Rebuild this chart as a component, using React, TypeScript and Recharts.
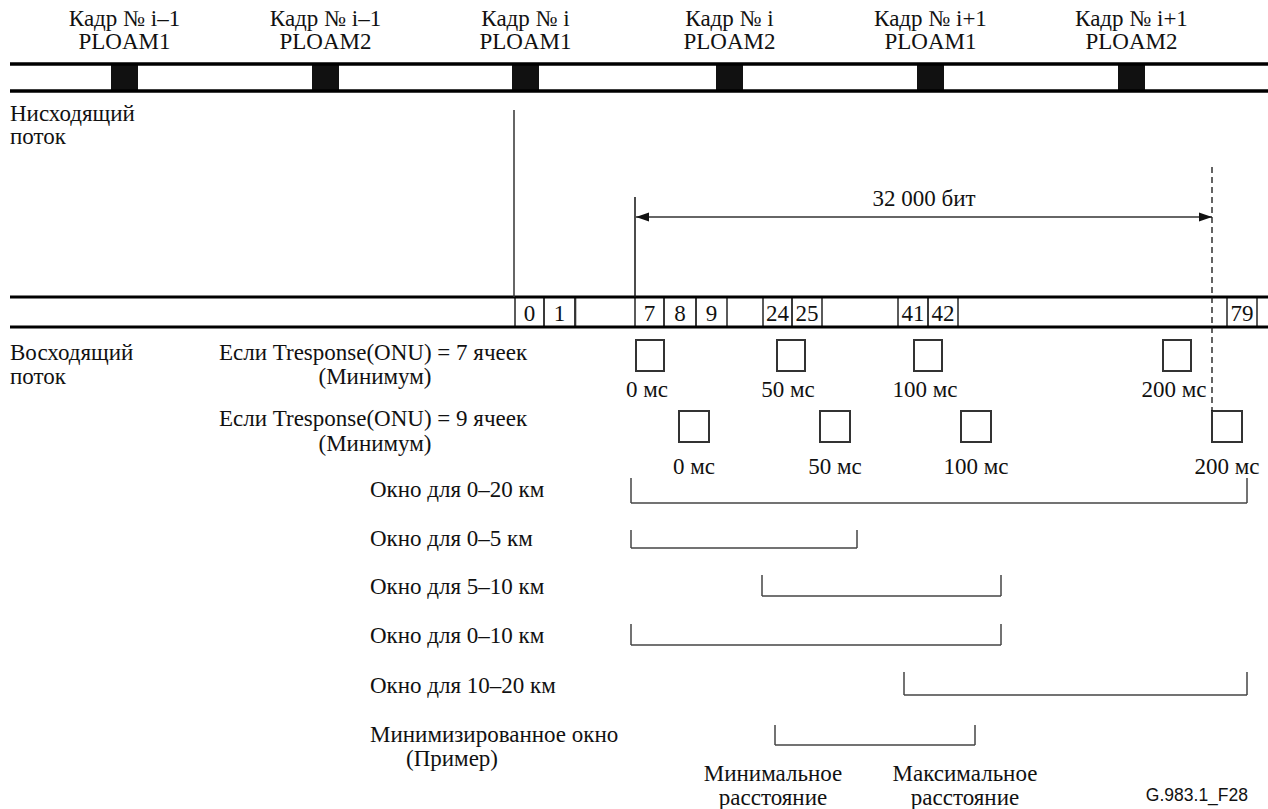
import React from 'react';
import { ScatterChart, Scatter, XAxis, YAxis, ReferenceLine, ReferenceArea } from 'recharts';

// ---------- data ----------
const frameNames = ['Кадр № i–1', 'Кадр № i–1', 'Кадр № i', 'Кадр № i', 'Кадр № i+1', 'Кадр № i+1'];
const ploamNames = ['PLOAM1', 'PLOAM2', 'PLOAM1', 'PLOAM2', 'PLOAM1', 'PLOAM2'];
const ploamTimes = [111, 312, 512, 716, 917, 1118];

const cellNumbers = ['0', '1', '7', '8', '9', '24', '25', '41', '42', '79'];
const cellStartTimes = [515, 544, 635, 664, 696, 763, 792, 898, 928, 1227];
const cellEndTimes = [544, 575, 664, 696, 727, 792, 822, 928, 958, 1257];

const msLabels = ['0 мс', '50 мс', '100 мс', '200 мс'];
const resp7Times = [636, 777, 914, 1163];
const resp9Times = [679, 820, 961, 1212];

const windowLabels = [
  'Окно для 0–20 км',
  'Окно для 0–5 км',
  'Окно для 5–10 км',
  'Окно для 0–10 км',
  'Окно для 10–20 км',
  'Минимизированное окно',
];
const windowStartTimes = [631, 631, 762, 631, 904, 775];
const windowEndTimes = [1247, 857, 1001, 1001, 1247, 975];

const bitLabel = '32 000 бит';
const bitStart = 636;
const bitEnd = 1212;

// ---------- layout (rows) ----------
const W = 1268;
const H = 809;
const SERIF = 'Liberation Serif, Times New Roman, Times, serif';
const SANS = 'Liberation Sans, Arial, Helvetica, sans-serif';
const INK = '#111';
const GREY = '#333';
const FS = 23;

const ROW = {
  head1: 18, head2: 41,
  dnTop: 64, dnBot: 91,
  dnLabel1: 113, dnLabel2: 136,
  bitText: 198, bitArrow: 217, bitTickTop: 197, dashTop: 167,
  upTop: 297, upBot: 327, cellText: 313,
  upLabel1: 352, upLabel2: 376,
  r7Top: 340, r7Bot: 371, r7Text: 389,
  r9Top: 411, r9Bot: 442, r9Text: 466,
  r9Label1: 418, r9Label2: 443,
};
const winText = [489, 538, 586, 635, 685, 734];
const winBottom = [503, 548, 596, 645, 695, 745];
const winTop = [478, 530, 575, 624, 672, 725];
const BLOCK_W = 27;
const BOX_W = 28;

type TextItem = { x: number; y: number; label: string; anchor?: string; size?: number; font?: string };

const TextShape = (props: any) => {
  const { cx, cy, payload } = props;
  if (cx == null || cy == null) return null;
  const family = payload.font || SERIF;
  const size = payload.size || FS;
  return (
    <text
      x={cx}
      y={cy}
      textAnchor={payload.anchor || 'start'}
      dominantBaseline="central"
      fontFamily={family}
      fontSize={size}
      fill={INK}
      style={{ fontFamily: family, fontSize: size }}
    >
      {payload.label}
    </text>
  );
};

const ArrowShape = (props: any) => {
  const { cx, cy, payload } = props;
  if (cx == null || cy == null) return null;
  const d = payload.dir === 'left' ? 1 : -1;
  const len = 13;
  const hw = 4.5;
  return <path d={`M${cx},${cy} L${cx + d * len},${cy - hw} L${cx + d * len},${cy + hw} Z`} fill={INK} />;
};

export default function App() {
  const texts: TextItem[] = [];
  frameNames.forEach((n, i) => texts.push({ x: ploamTimes[i] + BLOCK_W / 2, y: ROW.head1, label: n, anchor: 'middle' }));
  ploamNames.forEach((n, i) => texts.push({ x: ploamTimes[i] + BLOCK_W / 2, y: ROW.head2, label: n, anchor: 'middle' }));
  texts.push({ x: 10, y: ROW.dnLabel1, label: 'Нисходящий' });
  texts.push({ x: 10, y: ROW.dnLabel2, label: 'поток' });
  texts.push({ x: (bitStart + bitEnd) / 2, y: ROW.bitText, label: bitLabel, anchor: 'middle' });
  cellNumbers.forEach((n, i) => texts.push({ x: (cellStartTimes[i] + cellEndTimes[i]) / 2, y: ROW.cellText, label: n, anchor: 'middle' }));
  texts.push({ x: 10, y: ROW.upLabel1, label: 'Восходящий' });
  texts.push({ x: 10, y: ROW.upLabel2, label: 'поток' });
  texts.push({ x: 373, y: ROW.upLabel1, label: 'Если Tresponse(ONU) = 7 ячеек', anchor: 'middle' });
  texts.push({ x: 375, y: ROW.upLabel2, label: '(Минимум)', anchor: 'middle' });
  texts.push({ x: 373, y: ROW.r9Label1, label: 'Если Tresponse(ONU) = 9 ячеек', anchor: 'middle' });
  texts.push({ x: 375, y: ROW.r9Label2, label: '(Минимум)', anchor: 'middle' });
  msLabels.forEach((n, i) => texts.push({ x: resp7Times[i] + BOX_W / 2 - 3, y: ROW.r7Text, label: n, anchor: 'middle' }));
  msLabels.forEach((n, i) => texts.push({ x: resp9Times[i] + BOX_W / 2 + 1, y: ROW.r9Text, label: n, anchor: 'middle' }));
  windowLabels.forEach((n, i) => texts.push({ x: 370, y: winText[i], label: n }));
  texts.push({ x: 406, y: 758, label: '(Пример)' });
  texts.push({ x: 773, y: 773, label: 'Минимальное', anchor: 'middle' });
  texts.push({ x: 773, y: 797, label: 'расстояние', anchor: 'middle' });
  texts.push({ x: 965, y: 773, label: 'Максимальное', anchor: 'middle' });
  texts.push({ x: 965, y: 797, label: 'расстояние', anchor: 'middle' });
  texts.push({ x: 1248, y: 795, label: 'G.983.1_F28', anchor: 'end', size: 17.5, font: SANS });

  const arrows = [
    { x: bitStart, y: ROW.bitArrow, dir: 'left' },
    { x: bitEnd, y: ROW.bitArrow, dir: 'right' },
  ];

  type Seg = { x1: number; y1: number; x2: number; y2: number; w: number; c: string; dash?: string };
  const segs: Seg[] = [
    { x1: 10, y1: ROW.dnTop, x2: W, y2: ROW.dnTop, w: 3.5, c: '#000' },
    { x1: 10, y1: ROW.dnBot, x2: W, y2: ROW.dnBot, w: 3.5, c: '#000' },
    { x1: 10, y1: ROW.upTop, x2: W, y2: ROW.upTop, w: 3, c: '#000' },
    { x1: 10, y1: ROW.upBot, x2: W, y2: ROW.upBot, w: 3, c: '#000' },
    { x1: 514, y1: 110, x2: 514, y2: ROW.upTop, w: 1.5, c: GREY },
    { x1: bitStart - 1, y1: ROW.bitTickTop, x2: bitStart - 1, y2: ROW.upTop, w: 1.5, c: INK },
    { x1: bitStart, y1: ROW.bitArrow, x2: bitEnd, y2: ROW.bitArrow, w: 1.3, c: GREY },
    { x1: bitEnd, y1: ROW.dashTop, x2: bitEnd, y2: ROW.r9Top, w: 1.3, c: INK, dash: '6 4' },
  ];
  windowStartTimes.forEach((s, i) => {
    const e = windowEndTimes[i];
    segs.push({ x1: s, y1: winTop[i], x2: s, y2: winBottom[i], w: 1.5, c: '#444' });
    segs.push({ x1: s, y1: winBottom[i], x2: e, y2: winBottom[i], w: 1.5, c: '#444' });
    segs.push({ x1: e, y1: winTop[i], x2: e, y2: winBottom[i], w: 1.5, c: '#444' });
  });

  return (
    <div style={{ position: 'absolute', left: 0, top: 0, width: W, height: H, background: '#fff' }}>
      <ScatterChart width={W} height={H} margin={{ top: 0, right: 0, bottom: 0, left: 0 }}>
        <XAxis type="number" dataKey="x" domain={[0, W]} hide allowDataOverflow />
        <YAxis type="number" dataKey="y" domain={[0, H]} reversed hide allowDataOverflow />
        {ploamTimes.map((t, i) => (
          <ReferenceArea key={'pl' + i} x1={t} x2={t + BLOCK_W} y1={ROW.dnTop} y2={ROW.dnBot} fill="#111" fillOpacity={1} stroke="none" ifOverflow="visible" />
        ))}
        {cellStartTimes.map((t, i) => (
          <ReferenceArea key={'c' + i} x1={t} x2={cellEndTimes[i]} y1={ROW.upTop} y2={ROW.upBot} fill="none" stroke={GREY} strokeWidth={1.6} ifOverflow="visible" />
        ))}
        <ReferenceArea x1={575} x2={575.5} y1={ROW.upTop} y2={ROW.upBot} fill="none" stroke={GREY} strokeWidth={1.6} ifOverflow="visible" />
        {resp7Times.map((t, i) => (
          <ReferenceArea key={'r7' + i} x1={t} x2={t + BOX_W} y1={ROW.r7Top} y2={ROW.r7Bot} fill="#fff" fillOpacity={1} stroke={GREY} strokeWidth={2} ifOverflow="visible" />
        ))}
        {resp9Times.map((t, i) => (
          <ReferenceArea key={'r9' + i} x1={t} x2={t + BOX_W + 2} y1={ROW.r9Top} y2={ROW.r9Bot} fill="#fff" fillOpacity={1} stroke={GREY} strokeWidth={2} ifOverflow="visible" />
        ))}
        {segs.map((s, i) => (
          <ReferenceLine
            key={'s' + i}
            segment={[{ x: s.x1, y: s.y1 }, { x: s.x2, y: s.y2 }]}
            stroke={s.c}
            strokeWidth={s.w}
            strokeDasharray={s.dash}
            ifOverflow="visible"
          />
        ))}
        <Scatter data={arrows} shape={<ArrowShape />} isAnimationActive={false} />
        <Scatter data={texts} shape={<TextShape />} isAnimationActive={false} />
      </ScatterChart>
    </div>
  );
}
